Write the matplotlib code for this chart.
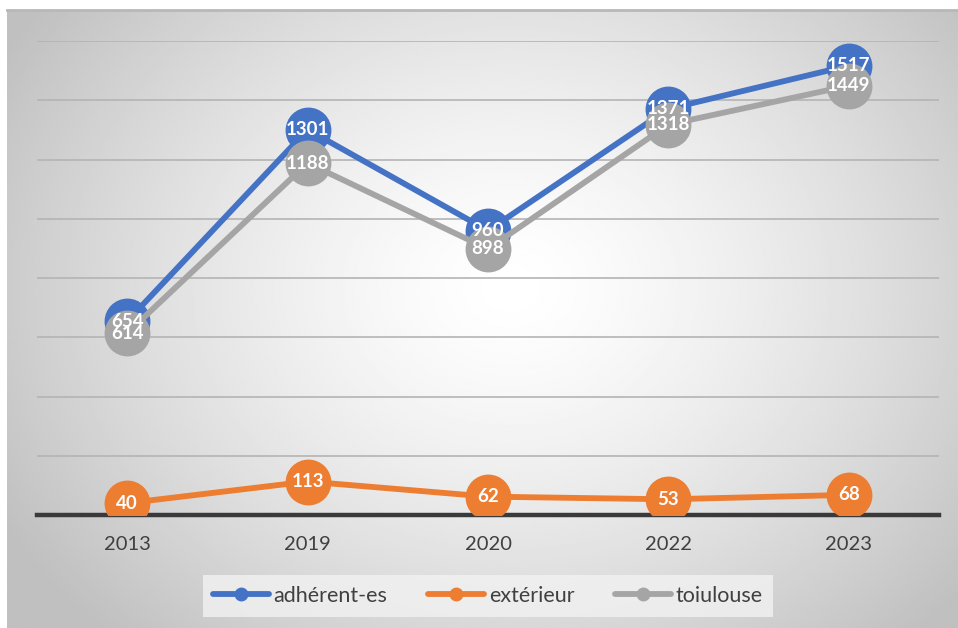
import numpy as np
import matplotlib
matplotlib.use('Agg')
import matplotlib.pyplot as plt
from matplotlib.lines import Line2D

plt.rcParams['font.family'] = ['Lato', 'DejaVu Sans']

# donnees du graphique
annees = ['2013', '2019', '2020', '2022', '2023']
adherents = [654, 1301, 960, 1371, 1517]
exterieur = [40, 113, 62, 53, 68]
toulouse = [614, 1188, 898, 1318, 1449]

noms = ['adhérent-es', 'extérieur', 'toiulouse']
couleurs = ['#4472c4', '#ed7d31', '#a5a5a5']

fig = plt.figure(figsize=(9.58, 6.28), dpi=100)

# fond en degrade radial (blanc au centre, gris sur les bords)
bg = fig.add_axes([7 / 958, 0, 951 / 958, 618 / 628])
xx, yy = np.meshgrid(np.linspace(0, 1, 400), np.linspace(0, 1, 300))
r = np.sqrt(((xx - 0.53) / 0.62) ** 2 + ((yy - 0.45) / 0.78) ** 2)
val = 1.0 - 0.25 * np.clip(r, 0, 1) ** 1.4
bg.imshow(val, cmap='gray', vmin=0, vmax=1, extent=[0, 1, 0, 1],
          aspect='auto', origin='upper', interpolation='bilinear')
bg.set_xlim(0, 1)
bg.set_ylim(0, 1)
bg.axis('off')
bg.plot([0, 1], [1, 1], color='#b8b8b8', lw=2, clip_on=False)

ax = fig.add_axes([37 / 958, 113 / 628, 902 / 958, 474 / 628])
ax.patch.set_alpha(0)
x = np.arange(len(annees))

series = [adherents, exterieur, toulouse]
for vals, col, nom in zip(series, couleurs, noms):
    ax.plot(x, vals, '-o', color=col, lw=4.2, markersize=32, label=nom,
            solid_capstyle='round', zorder=3)

# etiquettes de valeurs au centre des marqueurs
for vals in series:
    for xi, v in zip(x, vals):
        ax.text(xi, v, str(v), ha='center', va='center', color='white',
                fontsize=13.5, fontweight='bold', zorder=5)

ax.set_xlim(-0.5, len(annees) - 0.5)
ax.set_ylim(0, 1600)
ax.set_yticks(np.arange(200, 1601, 200))
ax.yaxis.grid(True, color='#b4b4b4', lw=1.2)
ax.set_axisbelow(True)
ax.tick_params(axis='y', left=False, labelleft=False)
ax.set_xticks(x)
ax.set_xticklabels(annees)
ax.tick_params(axis='x', length=0, pad=15, labelsize=14.5, labelcolor='#404040')
for s in ax.spines.values():
    s.set_visible(False)
ax.axhline(0, color='#3a3a3a', lw=3.2, zorder=2, clip_on=False)

handles = [Line2D([], [], color=c, lw=4.2, marker='o', markersize=9,
                  solid_capstyle='round') for c in couleurs]
leg = fig.legend(handles, noms, loc='center', ncol=3,
                 bbox_to_anchor=(488 / 958, 1 - 596 / 628),
                 fontsize=15.5, frameon=True, fancybox=False,
                 handlelength=2.6, handletextpad=0.2, columnspacing=1.9,
                 borderpad=0.5, borderaxespad=0)
leg.get_frame().set_facecolor('#f2f2f2')
leg.get_frame().set_alpha(0.8)
leg.get_frame().set_edgecolor('none')
for t in leg.get_texts():
    t.set_color('#404040')

fig.savefig('out.png', dpi=100)
